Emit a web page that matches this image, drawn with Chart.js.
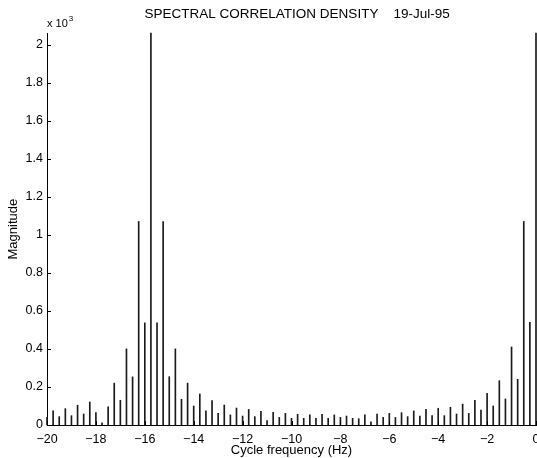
<!DOCTYPE html>
<html>
<head>
<meta charset="utf-8">
<script src="https://cdn.jsdelivr.net/npm/chart.js@4.4.1/dist/chart.umd.min.js"></script>
<style>
  html, body { margin: 0; padding: 0; background: #fff; }
  #wrap { width: 537px; height: 458px; }
</style>
</head>
<body>
<div id="wrap"><canvas id="scd" width="537" height="458"></canvas></div>
<script>
// Cycle frequencies (Hz), one stem every 0.25 Hz
const cycleFreq = [
  -20, -19.75, -19.5, -19.25, -19, -18.75, -18.5, -18.25, -18, -17.75,
  -17.5, -17.25, -17, -16.75, -16.5, -16.25, -16, -15.75, -15.5, -15.25,
  -15, -14.75, -14.5, -14.25, -14, -13.75, -13.5, -13.25, -13, -12.75,
  -12.5, -12.25, -12, -11.75, -11.5, -11.25, -11, -10.75, -10.5, -10.25,
  -10, -9.75, -9.5, -9.25, -9, -8.75, -8.5, -8.25, -8, -7.75,
  -7.5, -7.25, -7, -6.75, -6.5, -6.25, -6, -5.75, -5.5, -5.25,
  -5, -4.75, -4.5, -4.25, -4, -3.75, -3.5, -3.25, -3, -2.75,
  -2.5, -2.25, -2, -1.75, -1.5, -1.25, -1, -0.75, -0.5, -0.25,
  0
];

// Magnitude (x 10^3)
const magnitude = [
  0.04, 0.075, 0.044, 0.086, 0.049, 0.104, 0.058, 0.121, 0.065, 0.012,
  0.095, 0.22, 0.13, 0.40, 0.253, 1.07, 0.537, 2.06, 0.537, 1.07,
  0.254, 0.40, 0.135, 0.22, 0.10, 0.163, 0.074, 0.128, 0.061, 0.105,
  0.053, 0.089, 0.047, 0.082, 0.044, 0.072, 0.023, 0.067, 0.04, 0.061,
  0.035, 0.056, 0.035, 0.054, 0.035, 0.056, 0.035, 0.053, 0.04, 0.047,
  0.035, 0.033, 0.053, 0.017, 0.058, 0.04, 0.061, 0.04, 0.065, 0.044,
  0.074, 0.047, 0.082, 0.049, 0.088, 0.049, 0.093, 0.058, 0.11, 0.061,
  0.13, 0.079, 0.167, 0.10, 0.233, 0.137, 0.41, 0.24, 1.07, 0.54,
  2.06
];

const xTickValues = [-20, -18, -16, -14, -12, -10, -8, -6, -4, -2, 0];
const xTickLabels = ['\u221220', '\u221218', '\u221216', '\u221214', '\u221212', '\u221210',
                     '\u22128', '\u22126', '\u22124', '\u22122', '0'];
const yTickValues = [0, 0.2, 0.4, 0.6, 0.8, 1, 1.2, 1.4, 1.6, 1.8, 2];
const yTickLabels = ['0', '0.2', '0.4', '0.6', '0.8', '1', '1.2', '1.4', '1.6', '1.8', '2'];

const FONT = '"Liberation Sans", Arial, Helvetica, sans-serif';

// MATLAB style tick marks pointing into the plot
const innerTicks = {
    id: 'innerTicks',
    afterDraw(chart) {
        const { ctx, chartArea, scales: { x, y } } = chart;
        ctx.save();
        ctx.strokeStyle = '#000';
        ctx.lineWidth = 1;
        ctx.beginPath();
        y.ticks.forEach(t => {
            const py = Math.round(y.getPixelForValue(t.value)) + 0.5;
            ctx.moveTo(chartArea.left, py);
            ctx.lineTo(chartArea.left + 4, py);
        });
        x.ticks.forEach(t => {
            const px = Math.round(x.getPixelForValue(t.value)) + 0.5;
            ctx.moveTo(px, chartArea.bottom);
            ctx.lineTo(px, chartArea.bottom - 4);
        });
        ctx.stroke();
        ctx.restore();
    }
};

// "x 10^3" exponent above the y axis
const exponentLabel = {
    id: 'exponentLabel',
    afterDraw(chart) {
        const { ctx, chartArea } = chart;
        ctx.save();
        ctx.fillStyle = '#000';
        ctx.textAlign = 'left';
        ctx.textBaseline = 'alphabetic';
        ctx.font = '11px ' + FONT;
        const base = 'x 10';
        ctx.fillText(base, chartArea.left, 27);
        const w = ctx.measureText(base).width;
        ctx.font = '8px ' + FONT;
        ctx.fillText('3', chartArea.left + w + 1, 21);
        ctx.restore();
    }
};

const ctx = document.getElementById('scd').getContext('2d');

new Chart(ctx, {
    type: 'bar',
    data: {
        datasets: [{
            data: cycleFreq.map((f, i) => ({ x: f, y: magnitude[i] })),
            backgroundColor: '#1a1a1a',
            borderWidth: 0,
            barThickness: 1,
            clip: false
        }]
    },
    options: {
        responsive: false,
        animation: false,
        devicePixelRatio: 1,
        layout: { padding: { left: 0, right: 1, top: 0, bottom: 0 } },
        plugins: {
            legend: { display: false },
            tooltip: { enabled: false },
            title: {
                display: true,
                fullSize: false,
                text: '   SPECTRAL CORRELATION DENSITY    19-Jul-95',
                color: '#000',
                font: { family: FONT, size: 13.5, weight: 'normal' },
                padding: { top: 6, bottom: 11 }
            }
        },
        scales: {
            x: {
                type: 'linear',
                min: -20,
                max: 0,
                offset: false,
                grid: { display: false, drawTicks: false, offset: false },
                border: { display: true, color: '#000', width: 1 },
                afterBuildTicks: s => { s.ticks = xTickValues.map(v => ({ value: v })); },
                afterFit: s => { s.height = 33; s.paddingLeft = 0; s.paddingRight = 0; },
                ticks: {
                    callback: (v, i) => xTickLabels[i],
                    autoSkip: false,
                    maxRotation: 0,
                    padding: 7,
                    color: '#000',
                    font: { family: FONT, size: 12.5 }
                },
                title: {
                    display: true,
                    text: 'Cycle frequency (Hz)',
                    color: '#000',
                    font: { family: FONT, size: 13 },
                    padding: { top: 0, bottom: 0 }
                }
            },
            y: {
                min: 0,
                max: 2.06,
                grid: { display: false, drawTicks: false },
                border: { display: true, color: '#000', width: 1 },
                afterBuildTicks: s => { s.ticks = yTickValues.map(v => ({ value: v })); },
                afterFit: s => { s.width = 47; s.paddingTop = 0; s.paddingBottom = 0; },
                ticks: {
                    callback: (v, i) => yTickLabels[i],
                    padding: 4,
                    color: '#000',
                    font: { family: FONT, size: 12.5 }
                },
                title: {
                    display: true,
                    text: 'Magnitude',
                    color: '#000',
                    font: { family: FONT, size: 13 },
                    padding: { top: 6, bottom: 0 }
                }
            }
        }
    },
    plugins: [innerTicks, exponentLabel]
});
</script>
</body>
</html>
